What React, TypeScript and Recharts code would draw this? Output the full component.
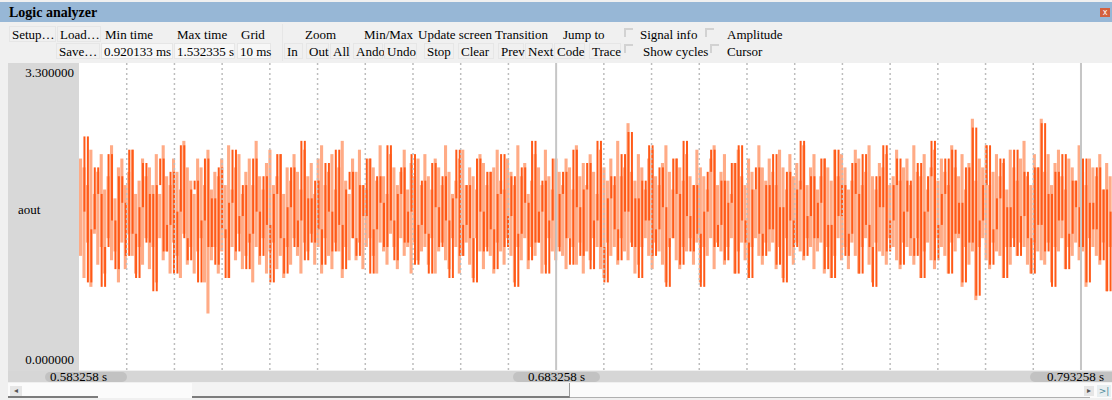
import React from 'react';
import { ComposedChart, Bar, XAxis, YAxis, ReferenceLine } from 'recharts';

// ---- data ----
const sampleStartMs = 583.258;
const sampleSpanMs = 216.5;
const sampleCount = 300;
const samplePeriodMs = sampleSpanMs / sampleCount;

const darkTrace = [
  1.7, 2.55, 0.9, 1.5, 2.2, 1.9, 0.85, 1.3, 2.35, 1.6, 1.05, 2.1, 1.8, 1.2, 2.4, 1.45, 0.95, 1.75, 2.25, 1.35,
  1.9, 0.8, 2.0, 2.3, 1.25, 1.55, 2.15, 1.0, 1.7, 2.45, 1.4, 1.15, 1.95, 2.05, 0.9, 1.6, 2.3, 1.3, 1.85, 1.1,
  2.2, 1.5, 0.95, 1.8, 2.4, 1.25, 1.65, 2.0, 1.05, 1.45, 2.3, 1.7, 1.2, 2.1, 1.55, 0.9, 1.9, 2.35, 1.4, 1.0,
  1.75, 2.2, 1.3, 1.6, 2.5, 1.15, 1.85, 1.35, 2.05, 1.5, 1.1, 2.25, 1.7, 1.25, 2.4, 1.55, 1.05, 1.95, 2.15, 1.4,
  1.2, 2.0, 1.65, 2.3, 1.0, 1.5, 2.1, 1.8, 1.3, 2.45, 1.6, 1.15, 1.9, 2.2, 1.35, 1.7, 2.35, 1.1, 1.55, 2.05,
  1.45, 1.0, 2.25, 1.75, 1.3, 2.1, 1.6, 0.95, 1.85, 2.4, 1.2, 1.55, 2.0, 1.4, 0.9, 2.3, 1.7, 1.25, 2.15, 1.5,
  1.05, 1.9, 2.35, 1.3, 1.65, 2.1, 0.85, 1.45, 2.2, 1.8, 1.15, 2.5, 1.35, 1.7, 2.05, 1.0, 1.6, 2.3, 1.25, 1.9,
  2.15, 1.4, 1.1, 2.4, 1.75, 1.2, 1.95, 2.25, 1.05, 1.6, 2.5, 1.3, 0.9, 1.85, 2.1, 1.5, 1.15, 2.35, 1.7, 2.6,
  1.3, 1.85, 0.95, 2.05, 1.6, 2.45, 1.2, 1.5, 2.2, 1.75, 0.85, 1.4, 2.3, 1.9, 1.1, 2.5, 1.65, 1.25, 2.0, 1.45,
  0.85, 1.7, 2.15, 2.4, 1.3, 1.55, 2.05, 1.15, 1.8, 2.25, 1.0, 2.45, 1.6, 1.35, 0.95, 1.95, 2.2, 1.45, 1.2, 2.0,
  1.5, 2.35, 1.1, 1.75, 0.9, 2.15, 1.6, 1.3, 1.95, 2.5, 1.2, 1.65, 2.1, 1.4, 1.8, 2.3, 1.05, 1.55, 0.95, 2.4,
  1.65, 2.0, 1.2, 1.45, 2.25, 1.9, 1.0, 2.35, 1.55, 1.3, 0.85, 2.1, 1.75, 2.45, 1.25, 1.6, 2.0, 2.3, 1.1, 1.7,
  2.05, 1.4, 1.2, 2.25, 0.95, 1.7, 2.1, 2.5, 1.15, 1.55, 1.9, 2.3, 1.0, 2.4, 1.45, 1.8, 0.9, 2.2, 1.35, 2.65,
  0.75, 1.6, 2.0, 2.45, 1.1, 1.5, 1.85, 2.3, 0.95, 1.75, 1.3, 2.4, 1.2, 1.65, 2.15, 1.4, 1.0, 2.2, 1.55, 2.7,
  1.25, 1.9, 0.85, 2.15, 1.6, 2.35, 1.05, 1.45, 2.05, 1.75, 1.3, 2.3, 0.9, 1.8, 1.5, 2.2, 1.15, 1.95, 0.8, 1.7,
];

const bandHigh = [
  2.3, 2.2, 2.0, 2.4, 1.9, 2.15, 2.35, 1.95, 2.1, 2.45, 1.85, 2.2, 2.3, 2.0, 2.15, 2.4, 1.9, 2.05, 2.3, 2.1,
  2.2, 2.0, 2.35, 1.9, 2.45, 2.1, 2.0, 2.3, 2.15, 1.95, 2.5, 2.2, 2.05, 1.9, 2.3, 2.2, 2.0, 2.4, 1.95, 2.15,
  2.1, 2.3, 2.0, 2.45, 1.95, 2.2, 2.35, 1.9, 2.15, 2.3, 2.0, 2.5, 2.1, 1.95, 2.25, 2.4, 2.0, 2.1, 2.35, 1.9,
  2.2, 2.05, 2.35, 2.15, 1.95, 2.4, 2.1, 2.25, 1.9, 2.3, 2.45, 2.0, 2.15, 2.35, 1.95, 2.2, 2.5, 2.05, 1.9, 2.3,
  2.15, 2.4, 2.0, 1.95, 2.3, 2.2, 2.05, 2.45, 2.1, 1.9, 2.35, 2.2, 2.0, 2.15, 2.4, 1.95, 2.25, 2.1, 2.3, 2.0,
  2.35, 2.1, 1.95, 2.3, 2.2, 2.0, 2.45, 2.15, 1.9, 2.05, 2.3, 2.4, 2.0, 2.2, 2.1, 1.95, 2.35, 2.25, 2.0, 2.15,
  2.2, 2.4, 2.05, 1.95, 2.3, 2.15, 2.0, 2.45, 2.1, 2.25, 1.9, 2.05, 2.35, 2.2, 2.0, 2.4, 2.1, 1.95, 2.3, 2.15,
  2.0, 2.3, 2.2, 1.95, 2.45, 2.1, 2.25, 2.0, 2.35, 2.15, 1.9, 2.4, 2.2, 2.05, 2.3, 2.0, 2.5, 2.1, 2.2, 2.7,
  2.15, 2.05, 2.35, 2.2, 1.95, 2.3, 2.4, 2.1, 2.0, 2.25, 2.45, 2.15, 1.95, 2.3, 2.2, 2.05, 2.35, 2.1, 2.0, 2.4,
  2.2, 2.1, 1.95, 2.3, 2.45, 2.0, 2.15, 2.35, 2.05, 1.9, 2.25, 2.4, 2.1, 2.0, 2.3, 2.15, 1.95, 2.45, 2.2, 2.05,
  2.3, 2.15, 2.0, 2.4, 2.2, 1.95, 2.35, 2.1, 2.25, 2.05, 2.45, 2.0, 2.2, 2.35, 1.95, 2.1, 2.3, 2.2, 2.05, 2.4,
  2.1, 2.35, 2.2, 1.95, 2.05, 2.4, 2.3, 2.0, 2.15, 2.45, 2.1, 1.95, 2.25, 2.2, 2.35, 2.0, 2.1, 2.4, 2.05, 2.2,
  2.3, 2.0, 2.45, 2.15, 2.1, 2.35, 1.95, 2.2, 2.4, 2.05, 2.3, 2.15, 2.0, 2.45, 2.2, 2.1, 2.35, 1.95, 2.25, 2.75,
  2.05, 2.3, 2.2, 2.45, 2.0, 2.15, 2.35, 2.1, 2.25, 1.95, 2.4, 2.2, 2.05, 2.3, 2.5, 2.1, 2.0, 2.35, 2.2, 2.75,
  2.15, 2.35, 2.0, 2.25, 2.4, 2.1, 1.95, 2.3, 2.2, 2.05, 2.45, 2.15, 2.0, 2.3, 2.2, 2.1, 2.35, 1.95, 2.25, 2.1,
];

const bandLow = [
  1.2, 0.95, 1.35, 0.85, 1.45, 1.1, 1.3, 1.0, 1.4, 1.15, 1.25, 0.9, 1.35, 1.05, 1.45, 1.2, 1.0, 1.3, 1.1, 1.4,
  1.05, 1.3, 0.9, 1.4, 1.15, 1.25, 1.0, 1.35, 1.2, 0.95, 1.45, 1.1, 1.3, 1.0, 1.25, 1.4, 0.9, 0.55, 1.15, 1.3,
  1.0, 1.25, 1.4, 0.95, 1.3, 1.15, 1.45, 1.05, 1.2, 1.35, 0.9, 1.3, 1.1, 1.4, 1.0, 1.25, 1.35, 1.05, 1.2, 0.95,
  1.3, 1.1, 1.4, 1.2, 1.0, 1.35, 1.25, 1.45, 1.1, 1.3, 1.0, 1.4, 1.2, 1.05, 1.35, 1.25, 0.95, 1.3, 1.15, 1.4,
  1.15, 1.35, 1.05, 1.3, 1.4, 1.2, 1.0, 1.35, 1.25, 1.1, 1.45, 1.3, 1.05, 1.4, 1.2, 1.3, 1.0, 1.35, 1.15, 1.25,
  1.3, 1.1, 1.4, 1.0, 1.25, 1.35, 1.15, 1.05, 1.4, 1.3, 1.0, 1.2, 1.35, 1.1, 0.95, 1.4, 1.25, 1.05, 1.3, 1.2,
  1.0, 1.35, 1.25, 1.1, 1.4, 1.2, 0.9, 1.3, 1.15, 1.4, 1.05, 1.3, 1.2, 1.35, 1.0, 1.1, 1.4, 1.25, 1.15, 1.3,
  1.2, 1.05, 1.4, 1.3, 1.1, 1.35, 1.0, 1.25, 1.15, 1.4, 1.3, 1.05, 0.95, 1.35, 1.2, 1.3, 1.1, 1.4, 1.25, 1.15,
  1.35, 1.0, 1.1, 1.3, 1.4, 1.2, 1.05, 1.35, 1.25, 1.1, 0.9, 1.3, 1.4, 1.15, 1.05, 1.3, 1.25, 1.4, 1.1, 1.35,
  0.9, 1.3, 1.2, 1.4, 1.05, 1.35, 1.25, 1.1, 1.3, 1.4, 1.0, 1.25, 1.35, 1.15, 0.95, 1.3, 1.4, 1.2, 1.1, 1.35,
  1.25, 1.35, 1.05, 1.3, 0.95, 1.4, 1.2, 1.1, 1.35, 1.25, 1.15, 1.4, 1.3, 1.05, 1.25, 1.35, 1.0, 1.3, 0.95, 1.2,
  1.4, 1.15, 1.3, 1.05, 1.35, 1.2, 1.0, 1.3, 1.4, 1.1, 0.9, 1.35, 1.25, 1.2, 1.1, 1.4, 1.3, 1.15, 1.05, 1.35,
  1.3, 1.2, 1.1, 1.4, 0.95, 1.25, 1.35, 1.15, 1.05, 1.4, 1.3, 1.2, 1.0, 1.35, 1.25, 1.4, 0.85, 1.3, 1.1, 1.25,
  0.7, 1.3, 1.4, 1.15, 1.05, 1.35, 1.25, 1.2, 0.95, 1.3, 1.1, 1.4, 1.2, 1.35, 1.3, 1.1, 1.0, 1.35, 1.25, 1.15,
  1.1, 1.35, 0.9, 1.3, 1.25, 1.4, 1.05, 1.3, 1.2, 1.35, 1.15, 1.25, 0.85, 1.4, 1.3, 1.2, 1.1, 1.35, 0.8, 1.3,
];

const gridTimesMs = [
  593.258, 603.258, 613.258, 623.258, 633.258, 643.258, 653.258, 663.258, 673.258,
  693.258, 703.258, 713.258, 723.258, 733.258, 743.258, 753.258, 763.258, 773.258, 783.258,
];
const markerTimesMs = [683.258, 793.258];
const timeLabels = ['0.583258 s', '0.683258 s', '0.793258 s'];
const yTopLabel = '3.300000';
const yBottomLabel = '0.000000';
const signalName = 'aout';
const yDomain: [number, number] = [-0.09, 3.38];

// each dark stroke is the vertical jump between consecutive samples (step-hold drawing)
const rows = darkTrace.map((v, i) => {
  const prev = i === 0 ? v : darkTrace[i - 1];
  return {
    t: sampleStartMs + (i + 0.5) * samplePeriodMs,
    jump: [Math.min(prev, v), Math.max(prev, v)],
    band: [bandLow[i], bandHigh[i]],
  };
});

const FONT = '"Liberation Serif", "Times New Roman", serif';

type Tool = { text: string; x: number; row: 0 | 1; box?: 'btn' | 'input'; w?: number };
const tools: Tool[] = [
  { text: 'Setup…', x: 12, row: 0, box: 'btn', w: 47 },
  { text: 'Load…', x: 60, row: 0, box: 'btn', w: 44 },
  { text: 'Min time', x: 105, row: 0 },
  { text: 'Max time', x: 177, row: 0 },
  { text: 'Grid', x: 241, row: 0 },
  { text: 'Zoom', x: 305, row: 0 },
  { text: 'Min/Max', x: 364, row: 0 },
  { text: 'Update screen', x: 418, row: 0 },
  { text: 'Transition', x: 495, row: 0 },
  { text: 'Jump to', x: 563, row: 0 },
  { text: 'Signal info', x: 640, row: 0 },
  { text: 'Amplitude', x: 727, row: 0 },
  { text: 'Save…', x: 59, row: 1, box: 'btn', w: 44 },
  { text: '0.920133 ms', x: 104, row: 1, box: 'input', w: 72 },
  { text: '1.532335 s', x: 177, row: 1, box: 'input', w: 61 },
  { text: '10 ms', x: 240, row: 1, box: 'input', w: 34 },
  { text: 'In', x: 287, row: 1, box: 'btn', w: 19 },
  { text: 'Out', x: 309, row: 1, box: 'btn', w: 23 },
  { text: 'All', x: 333, row: 1, box: 'btn', w: 20 },
  { text: 'Ando', x: 356, row: 1, box: 'btn', w: 30 },
  { text: 'Undo', x: 387, row: 1, box: 'btn', w: 33 },
  { text: 'Stop', x: 427, row: 1, box: 'btn', w: 30 },
  { text: 'Clear', x: 461, row: 1, box: 'btn', w: 36 },
  { text: 'Prev', x: 501, row: 1, box: 'btn', w: 26 },
  { text: 'Next', x: 528, row: 1, box: 'btn', w: 28 },
  { text: 'Code', x: 557, row: 1, box: 'btn', w: 31 },
  { text: 'Trace', x: 592, row: 1, box: 'btn', w: 32 },
  { text: 'Show cycles', x: 643, row: 1 },
  { text: 'Cursor', x: 727, row: 1 },
];
const checks = [
  { x: 624, y: 28 },
  { x: 624, y: 44 },
  { x: 705, y: 28 },
  { x: 710, y: 44 },
];

const abs = (s: React.CSSProperties): React.CSSProperties => ({ position: 'absolute', ...s });

export default function App() {
  const chartLeft = 79;
  const chartTop = 63;
  const chartW = 1112 - chartLeft;
  const chartH = 370 - chartTop;
  const xDomain: [number, number] = [sampleStartMs, sampleStartMs + sampleSpanMs];
  return (
    <div
      style={abs({
        left: 0,
        top: 0,
        width: 1112,
        height: 400,
        overflow: 'hidden',
        background: '#f0f0f0',
        fontFamily: FONT,
        fontSize: 13,
        color: '#000',
      })}
    >
      {/* title bar */}
      <div style={abs({ left: 0, top: 2, width: 1112, height: 20, background: '#97b7d6' })} />
      <div style={abs({ left: 9, top: 4, lineHeight: '17px', fontWeight: 'bold', fontSize: 14 })}>
        Logic analyzer
      </div>
      <div
        style={abs({
          left: 1100,
          top: 8,
          width: 10,
          height: 9,
          background: '#d4613e',
          color: '#fff',
          fontSize: 8,
          lineHeight: '9px',
          textAlign: 'center',
          fontFamily: 'DejaVu Sans',
        })}
      >
        x
      </div>

      {/* toolbar */}
      {tools.map((t, i) => {
        const top = t.row === 0 ? 26 : 43;
        return (
          <React.Fragment key={i}>
            {t.box && (
              <div
                style={abs({
                  left: t.x - 3,
                  top: top,
                  width: t.w,
                  height: 16,
                  background: t.box === 'input' ? '#f7f7f7' : '#f0f0f0',
                  border: '1px solid #e6e6e6',
                  boxSizing: 'border-box',
                })}
              />
            )}
            <div style={abs({ left: t.x, top, lineHeight: '17px', whiteSpace: 'nowrap' })}>{t.text}</div>
          </React.Fragment>
        );
      })}
      <div style={abs({ left: 282, top: 24, width: 1, height: 37, background: '#e6e6e6' })} />
      {checks.map((c, i) => (
        <div
          key={i}
          style={abs({
            left: c.x,
            top: c.y,
            width: 9,
            height: 9,
            borderTop: '2px solid #d2d2d2',
            borderLeft: '2px solid #d2d2d2',
            boxSizing: 'border-box',
          })}
        />
      ))}

      {/* left panel */}
      <div style={abs({ left: 8, top: 63, width: 71, height: 308, background: '#d8d8d8' })} />
      <div style={abs({ left: 8, top: 65, width: 66, textAlign: 'right', lineHeight: '16px' })}>{yTopLabel}</div>
      <div style={abs({ left: 18, top: 202, lineHeight: '16px' })}>{signalName}</div>
      <div style={abs({ left: 8, top: 352, width: 66, textAlign: 'right', lineHeight: '16px' })}>{yBottomLabel}</div>

      {/* plot */}
      <div style={abs({ left: chartLeft, top: chartTop, width: chartW, height: chartH, background: '#ffffff' })}>
        <ComposedChart
          width={chartW}
          height={chartH}
          data={rows}
          margin={{ top: 0, right: 0, bottom: 0, left: 0 }}
          barGap={0}
          barCategoryGap={0}
        >
          <XAxis xAxisId="light" dataKey="t" type="number" domain={xDomain} allowDataOverflow hide />
          <XAxis xAxisId="dark" dataKey="t" type="number" domain={xDomain} allowDataOverflow hide />
          <YAxis type="number" domain={yDomain} allowDataOverflow hide />
          <Bar xAxisId="light" dataKey="band" fill="#ffab86" barSize={4} isAnimationActive={false} />
          <Bar xAxisId="dark" dataKey="jump" fill="#ff5a18" barSize={2} isAnimationActive={false} />
          {gridTimesMs.map((g) => (
            <ReferenceLine key={g} xAxisId="light" x={g} stroke="#bdbdbd" strokeWidth={1.5} strokeDasharray="2 3" />
          ))}
          {markerTimesMs.map((g) => (
            <ReferenceLine key={g} xAxisId="light" x={g} stroke="#c6c6c6" strokeWidth={2} />
          ))}
        </ComposedChart>
      </div>

      {/* time bar */}
      <div style={abs({ left: 8, top: 371, width: 1104, height: 11, background: '#d6d6d6' })} />
      <div style={abs({ left: 45, top: 372, width: 82, height: 10, borderRadius: 5, background: '#c2c2c2' })} />
      <div style={abs({ left: 50, top: 368, lineHeight: '17px', whiteSpace: 'nowrap' })}>{timeLabels[0]}</div>
      <div style={abs({ left: 513, top: 372, width: 87, height: 10, borderRadius: 5, background: '#c2c2c2' })} />
      <div style={abs({ left: 528, top: 368, lineHeight: '17px', whiteSpace: 'nowrap' })}>{timeLabels[1]}</div>
      <div style={abs({ left: 1030, top: 372, width: 90, height: 10, borderRadius: 5, background: '#c2c2c2' })} />
      <div style={abs({ left: 1047, top: 368, lineHeight: '17px', whiteSpace: 'nowrap' })}>{timeLabels[2]}</div>

      {/* scrollbar */}
      <div style={abs({ left: 8, top: 383, width: 1104, height: 15, background: '#fbfbfb' })} />
      <div style={abs({ left: 192, top: 383, width: 378, height: 15, background: '#f3f3f3', borderRight: '1px solid #9a9a9a', borderBottom: '2px solid #7c7c7c', boxSizing: 'border-box' })} />
      <div style={abs({ left: 8, top: 396, width: 90, height: 2, background: '#7c7c7c' })} />
      <div style={abs({ left: 570, top: 397, width: 520, height: 1, background: '#b0b0b0' })} />
      <div style={abs({ left: 10, top: 386, width: 12, height: 10, background: '#e6e6e6', fontSize: 8, lineHeight: '10px', textAlign: 'center', color: '#555', fontFamily: 'DejaVu Sans' })}>◂</div>
      <div style={abs({ left: 1084, top: 386, width: 10, height: 10, background: '#e6e6e6', fontSize: 8, lineHeight: '10px', textAlign: 'center', color: '#555', fontFamily: 'DejaVu Sans' })}>▸</div>
      <div style={abs({ left: 1097, top: 385, width: 14, height: 12, background: '#e8eef0', fontSize: 9, lineHeight: '12px', textAlign: 'center', color: '#4a8a9a', fontFamily: 'DejaVu Sans' })}>&gt;|</div>
    </div>
  );
}
